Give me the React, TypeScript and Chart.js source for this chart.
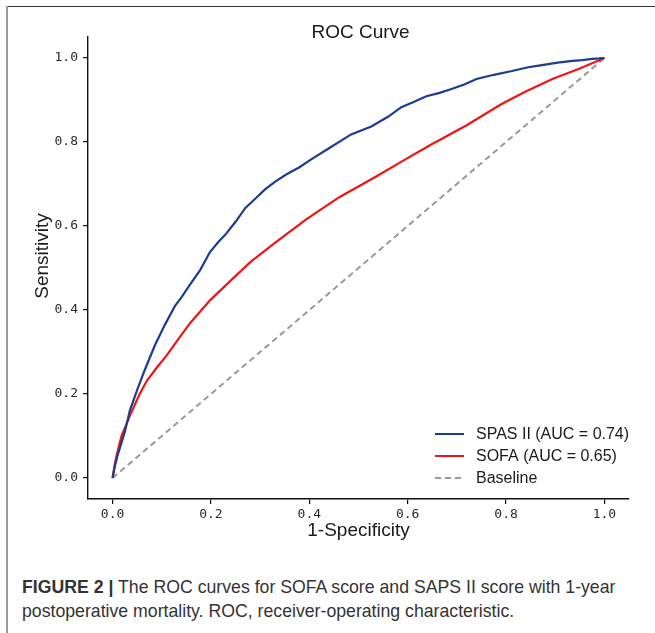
import React, { useEffect, useRef } from "react";
import { Chart, registerables } from "chart.js";

Chart.register(...registerables);

const seriesLabels = ["SPAS II (AUC = 0.74)", "SOFA (AUC = 0.65)", "Baseline"];

const spasX = [0, 0.005, 0.01, 0.017, 0.025, 0.035, 0.05, 0.065, 0.086, 0.106, 0.127, 0.14, 0.157, 0.178, 0.198, 0.215, 0.229, 0.25, 0.27, 0.29, 0.31, 0.33, 0.352, 0.38, 0.403, 0.44, 0.485, 0.526, 0.56, 0.587, 0.612, 0.638, 0.665, 0.689, 0.715, 0.74, 0.775, 0.812, 0.845, 0.873, 0.905, 0.935, 0.955, 0.975, 0.99, 1];
const spasY = [0, 0.03, 0.053, 0.08, 0.11, 0.16, 0.21, 0.256, 0.316, 0.364, 0.41, 0.43, 0.46, 0.495, 0.538, 0.562, 0.579, 0.61, 0.643, 0.665, 0.687, 0.705, 0.722, 0.74, 0.758, 0.785, 0.818, 0.837, 0.86, 0.883, 0.895, 0.909, 0.917, 0.926, 0.937, 0.95, 0.96, 0.969, 0.978, 0.983, 0.989, 0.993, 0.995, 0.998, 0.999, 1];

const sofaX = [0, 0.004, 0.008, 0.018, 0.035, 0.055, 0.07, 0.09, 0.11, 0.127, 0.157, 0.198, 0.24, 0.28, 0.33, 0.393, 0.46, 0.536, 0.59, 0.648, 0.72, 0.79, 0.84, 0.894, 0.95, 1];
const sofaY = [0, 0.03, 0.053, 0.1, 0.148, 0.2, 0.232, 0.263, 0.292, 0.32, 0.368, 0.423, 0.47, 0.514, 0.56, 0.615, 0.668, 0.718, 0.755, 0.794, 0.84, 0.89, 0.92, 0.95, 0.975, 1];

const baseX = [0, 1];
const baseY = [0, 1];

const tickValues = [0, 0.2, 0.4, 0.6, 0.8, 1.0];
const tickLabels = ["0.0", "0.2", "0.4", "0.6", "0.8", "1.0"];

const titleText = "ROC Curve";
const xTitle = "1-Specificity";
const yTitle = "Sensitivity";

const colors = ["#1b3d8f", "#f01414", "#999999"];

const toPoints = (xs: number[], ys: number[]) => xs.map((x, i) => ({ x, y: ys[i] }));

const SANS = "'Liberation Sans', Arial, sans-serif";

const textPlugin = {
  id: "customText",
  afterDraw(chart: any) {
    const ctx = chart.ctx;
    const ca = chart.chartArea;
    ctx.save();
    ctx.fillStyle = "#1a1a1a";
    ctx.textAlign = "center";
    ctx.textBaseline = "middle";
    ctx.font = `19px ${SANS}`;
    const cx = (ca.left + ca.right) / 2;
    ctx.fillText(titleText, cx + 2, 33);
    ctx.fillText(xTitle, cx, 531);
    ctx.save();
    ctx.translate(43, 256);
    ctx.rotate(-Math.PI / 2);
    ctx.fillText(yTitle, 0, 0);
    ctx.restore();

    // legend
    const rows = [434, 456, 478];
    ctx.font = `16px ${SANS}`;
    ctx.textAlign = "left";
    chart.data.datasets.forEach((ds: any, i: number) => {
      const y = rows[i];
      ctx.beginPath();
      ctx.strokeStyle = ds.borderColor;
      ctx.lineWidth = 2;
      ctx.setLineDash(ds.borderDash || []);
      ctx.moveTo(435, y);
      ctx.lineTo(464, y);
      ctx.stroke();
      ctx.setLineDash([]);
      ctx.fillStyle = "#1a1a1a";
      ctx.fillText(ds.label, 476, y + 1);
    });
    ctx.restore();
  },
};

export default function App() {
  const ref = useRef<HTMLCanvasElement | null>(null);

  useEffect(() => {
    if (!ref.current) return;
    const tickFont = { family: "'DejaVu Sans Mono', 'Liberation Mono', monospace", size: 13 };
    const chart = new Chart(ref.current, {
      type: "line",
      data: {
        datasets: [
          {
            label: seriesLabels[0],
            data: toPoints(spasX, spasY),
            borderColor: colors[0],
            borderWidth: 2.2,
            pointRadius: 0,
            tension: 0,
          },
          {
            label: seriesLabels[1],
            data: toPoints(sofaX, sofaY),
            borderColor: colors[1],
            borderWidth: 2.2,
            pointRadius: 0,
            tension: 0,
          },
          {
            label: seriesLabels[2],
            data: toPoints(baseX, baseY),
            borderColor: colors[2],
            borderWidth: 2,
            borderDash: [6, 4],
            pointRadius: 0,
          },
        ],
      },
      options: {
        animation: false,
        responsive: false,
        layout: { padding: { left: 0, right: 26, top: 37, bottom: 0 } },
        plugins: { legend: { display: false }, title: { display: false }, tooltip: { enabled: false } },
        scales: {
          x: {
            type: "linear",
            min: -0.05,
            max: 1.05,
            afterBuildTicks: (s: any) => {
              s.ticks = tickValues.map((v) => ({ value: v }));
            },
            afterFit: (s: any) => {
              s.height = 51;
            },
            ticks: {
              callback: (_v: any, i: number) => tickLabels[i],
              font: tickFont,
              color: "#2a2a2a",
              padding: 3,
              maxRotation: 0,
            },
            grid: { drawOnChartArea: false, drawTicks: true, tickLength: 5, color: "#111111", lineWidth: 1.2 },
            border: { display: true, color: "#111111", width: 1.4 },
          },
          y: {
            type: "linear",
            min: -0.05,
            max: 1.05,
            afterBuildTicks: (s: any) => {
              s.ticks = tickValues.map((v) => ({ value: v }));
            },
            afterFit: (s: any) => {
              s.width = 88;
            },
            ticks: {
              callback: (_v: any, i: number) => tickLabels[i],
              font: tickFont,
              color: "#2a2a2a",
              padding: 5,
            },
            grid: { drawOnChartArea: false, drawTicks: true, tickLength: 5, color: "#111111", lineWidth: 1.2 },
            border: { display: true, color: "#111111", width: 1.4 },
          },
        },
      },
      plugins: [textPlugin],
    } as any);
    return () => chart.destroy();
  }, []);

  return (
    <div style={{ position: "fixed", left: 0, top: 0, width: 655, height: 633, background: "#fff", overflow: "hidden" }}>
      <div style={{ position: "absolute", left: 7, top: 6, width: 648, height: 1, background: "#333" }} />
      <div style={{ position: "absolute", left: 6, top: 6, width: 2, height: 627, background: "#9a9a9a" }} />
      <canvas ref={ref} width={655} height={550} style={{ position: "absolute", left: 0, top: 0, width: 655, height: 550 }} />
      <div
        style={{
          position: "absolute",
          left: 22,
          top: 575,
          whiteSpace: "nowrap",
          fontFamily: SANS,
          fontSize: 17.7,
          lineHeight: "24px",
          color: "#333",
        }}
      >
        <b>FIGURE 2 |</b> The ROC curves for SOFA score and SAPS II score with 1-year
        <br />
        postoperative mortality. ROC, receiver-operating characteristic.
      </div>
    </div>
  );
}
